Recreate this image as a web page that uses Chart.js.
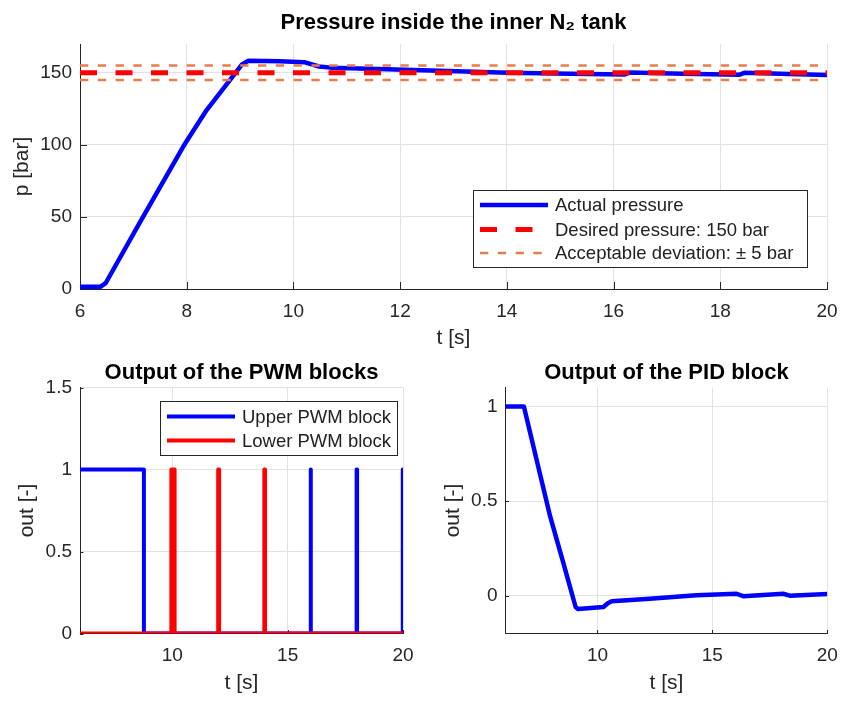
<!DOCTYPE html>
<html>
<head>
<meta charset="utf-8">
<script src="https://cdn.jsdelivr.net/npm/chart.js@4.4.1/dist/chart.umd.min.js"></script>
<style>
  html, body { margin: 0; padding: 0; background: #fff; }
  #wrap { position: relative; width: 843px; height: 701px; }
  canvas { position: absolute; left: 0; top: 0; }
</style>
</head>
<body>
<div id="wrap">
  <canvas id="presion" width="843" height="701"></canvas>
  <canvas id="pwm" width="843" height="701"></canvas>
  <canvas id="pid" width="843" height="701"></canvas>
</div>
<script>
// datos
const pressureT = [6, 6.38, 6.48, 7.12, 7.97, 8.37, 9.03, 9.15, 9.75, 10.2, 10.48, 10.7, 11.75, 12.9, 14.02, 15.2, 16.2, 16.3, 17.3, 18.35, 18.45, 19.3, 20];
const pressureP = [1.5, 1.5, 4, 46, 101, 124, 155.6, 158.3, 158, 157.4, 154.4, 153.6, 152.5, 151.2, 150, 149.3, 148.8, 150.2, 149.4, 148.6, 150, 149.2, 148.5];
const desiredT = [6, 20];
const desiredP = [150, 150];
const devUpperP = [155, 155];
const devLowerP = [145, 145];
const pressureXTicks = [6, 8, 10, 12, 14, 16, 18, 20];
const pressureYTicks = [0, 50, 100, 150];

const upperPwmT = [6, 8.77, 8.77, 15.99, 15.99, 16.01, 16.01, 17.99, 17.99, 18.01, 18.01, 19.99, 19.99, 20];
const upperPwmY = [1, 1, 0, 0, 1, 1, 0, 0, 1, 1, 0, 0, 1, 1];
const lowerPwmT = [6, 9.96, 9.96, 10.1, 10.1, 11.99, 11.99, 12.03, 12.03, 13.99, 13.99, 14.02, 14.02, 20];
const lowerPwmY = [0, 0, 1, 1, 0, 0, 1, 1, 0, 0, 1, 1, 0, 0];
const pwmXTicks = [10, 15, 20];
const pwmYTicks = [0, 0.5, 1, 1.5];

const pidT = [6, 6.8, 7.35, 7.94, 8.5, 9.05, 9.15, 10.26, 10.45, 10.62, 12.28, 14.3, 16.05, 16.34, 18.08, 18.37, 20];
const pidY = [1, 1, 0.72, 0.42, 0.18, -0.06, -0.07, -0.06, -0.04, -0.03, -0.016, 0.002, 0.01, -0.003, 0.01, 0.0, 0.009];
const pidXTicks = [10, 15, 20];
const pidYTicks = [0, 0.5, 1];

const fam = "'Liberation Sans', Arial, Helvetica, sans-serif";
const gris = '#262626';
Chart.defaults.font.family = fam;
Chart.defaults.color = gris;

const xy = (ts, vs) => ts.map((t, i) => ({ x: t, y: vs[i] }));

// marcas hacia dentro como en matlab
const marcas = {
  id: 'marcas',
  beforeDatasetsDraw(chart, args, o) {
    const ctx = chart.ctx;
    const { left, bottom } = chart.chartArea;
    const sx = chart.scales.x, sy = chart.scales.y;
    ctx.save();
    ctx.strokeStyle = gris;
    ctx.lineWidth = 1;
    ctx.beginPath();
    sx.ticks.forEach(t => {
      const px = Math.round(sx.getPixelForValue(t.value)) + 0.5;
      ctx.moveTo(px, bottom);
      ctx.lineTo(px, bottom - o.len);
    });
    sy.ticks.forEach(t => {
      const py = Math.round(sy.getPixelForValue(t.value)) + 0.5;
      ctx.moveTo(left, py);
      ctx.lineTo(left + o.len, py);
    });
    ctx.stroke();
    ctx.restore();
  }
};

const leyenda = {
  id: 'leyenda',
  afterDraw(chart, args, o) {
    if (!o.box) return;
    const ctx = chart.ctx;
    const b = o.box;
    ctx.save();
    ctx.fillStyle = '#fff';
    ctx.fillRect(b.x, b.y, b.w, b.h);
    ctx.strokeStyle = gris;
    ctx.lineWidth = 1;
    ctx.strokeRect(b.x + 0.5, b.y + 0.5, b.w, b.h);
    ctx.font = '18.5px ' + fam;
    ctx.textBaseline = 'middle';
    o.items.forEach((idx, i) => {
      const ds = chart.data.datasets[idx];
      const y = o.rows[i];
      ctx.beginPath();
      ctx.setLineDash(ds.borderDash || []);
      ctx.strokeStyle = ds.borderColor;
      ctx.lineWidth = ds.borderWidth;
      ctx.moveTo(o.lineX[0], y);
      ctx.lineTo(o.lineX[1], y);
      ctx.stroke();
      ctx.setLineDash([]);
      ctx.fillStyle = '#222';
      ctx.fillText(ds.label, o.textX, y + 1);
    });
    ctx.restore();
  }
};

function linea(label, data, color, width, dash, order) {
  return {
    label: label, data: data, borderColor: color, borderWidth: width,
    borderDash: dash, order: order, pointRadius: 0, tension: 0, fill: false,
    borderJoinStyle: 'round'
  };
}

function ejes(xmin, xmax, xticks, xh, ymin, ymax, yticks, yw, ylab, ytitlePad, xtitlePad) {
  return {
    x: {
      type: 'linear', min: xmin, max: xmax,
      afterBuildTicks: s => { s.ticks = xticks.map(v => ({ value: v })); },
      // el tamaño del eje lo fijo a mano para que el area coincida
      afterFit: s => { s.height = xh; s.paddingLeft = 0; s.paddingRight = 0; },
      grid: { color: '#e2e2e2', drawTicks: false },
      border: { display: true, color: gris, width: 1 },
      ticks: { font: { size: 19 }, color: gris, padding: 11, maxRotation: 0, autoSkip: false, callback: v => String(v) },
      title: { display: true, text: 't [s]', color: gris, font: { size: 21, lineHeight: 1 }, padding: { top: 0, bottom: xtitlePad } }
    },
    y: {
      type: 'linear', min: ymin, max: ymax,
      afterBuildTicks: s => { s.ticks = yticks.map(v => ({ value: v })); },
      afterFit: s => { s.width = yw; s.paddingTop = 0; s.paddingBottom = 0; },
      grid: { color: '#e2e2e2', drawTicks: false },
      border: { display: true, color: gris, width: 1 },
      ticks: { font: { size: 19 }, color: gris, padding: 8, autoSkip: false, callback: v => String(v) },
      title: { display: true, text: ylab, color: gris, font: { size: 21, lineHeight: 1 }, padding: { top: ytitlePad, bottom: 0 } }
    }
  };
}

function titulo(text, padBottom) {
  return {
    display: true, text: text, fullSize: false, color: '#000',
    font: { size: 22, weight: 'bold', lineHeight: 1.2 },
    padding: { top: 10, bottom: padBottom }
  };
}

// presion en el tanque
new Chart(document.getElementById('presion'), {
  type: 'line',
  data: {
    datasets: [
      linea('Actual pressure', xy(pressureT, pressureP), '#0000ff', 4.5, [], 3),
      linea('Desired pressure: 150 bar', xy(desiredT, desiredP), '#ff0000', 5, [17, 18.5], 2),
      linea('Acceptable deviation: \u00b1 5 bar', xy(desiredT, devUpperP), '#e67d4b', 2.5, [8.3, 9.5], 1),
      linea('Acceptable deviation: \u00b1 5 bar', xy(desiredT, devLowerP), '#e67d4b', 2.5, [8.3, 9.5], 1)
    ]
  },
  options: {
    responsive: false, animation: false,
    layout: { padding: { left: 0, right: 16, top: 0, bottom: 351 } },
    scales: ejes(6, 20, pressureXTicks, 61, 0, 170, pressureYTicks, 80, 'p [bar]', 12, 1.2),
    plugins: {
      legend: { display: false }, tooltip: { enabled: false },
      title: titulo('Pressure inside the inner N\u2082 tank', 7.6),
      marcas: { len: 7 },
      leyenda: {
        box: { x: 473, y: 190, w: 334, h: 77 },
        items: [0, 1, 2], rows: [205, 229.5, 253],
        lineX: [480, 548], textX: 555
      }
    }
  },
  plugins: [marcas, leyenda]
});

// salida de los bloques PWM
new Chart(document.getElementById('pwm'), {
  type: 'line',
  data: {
    datasets: [
      linea('Upper PWM block', xy(upperPwmT, upperPwmY), '#0000ff', 4, [], 2),
      linea('Lower PWM block', xy(lowerPwmT, lowerPwmY), '#ff0000', 4, [], 1)
    ]
  },
  options: {
    responsive: false, animation: false,
    layout: { padding: { left: 0, right: 440, top: 350, bottom: 0 } },
    scales: ejes(6, 20, pwmXTicks, 67.5, 0, 1.5, pwmYTicks, 80, 'out [-]', 17, 7.2),
    plugins: {
      legend: { display: false }, tooltip: { enabled: false },
      title: titulo('Output of the PWM blocks', 1.1),
      marcas: { len: 3.5 },
      leyenda: {
        box: { x: 160, y: 401, w: 237, h: 54 },
        items: [0, 1], rows: [416.5, 440.5],
        lineX: [167, 235], textX: 242
      }
    }
  },
  plugins: [marcas, leyenda]
});

// salida del bloque PID
new Chart(document.getElementById('pid'), {
  type: 'line',
  data: {
    datasets: [
      linea('PID', xy(pidT, pidY), '#0000ff', 4.5, [], 1)
    ]
  },
  options: {
    responsive: false, animation: false,
    layout: { padding: { left: 435.5, right: 15.7, top: 350, bottom: 0 } },
    scales: ejes(6, 20, pidXTicks, 67.5, -0.2, 1.1, pidYTicks, 70, 'out [-]', 7, 7.2),
    plugins: {
      legend: { display: false }, tooltip: { enabled: false },
      title: titulo('Output of the PID block', 1.1),
      marcas: { len: 3.5 }
    }
  },
  plugins: [marcas, leyenda]
});
</script>
</body>
</html>
